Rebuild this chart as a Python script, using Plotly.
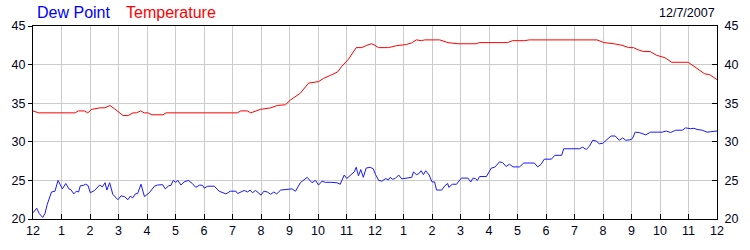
import plotly.graph_objects as go

# Hours since midnight, 12/7/2007
dew_hours = [
    0, 0.13, 0.22, 0.34, 0.42, 0.5, 0.65, 0.77, 0.88, 1.03,
    1.15, 1.26, 1.33, 1.43, 1.52, 1.60, 1.66, 1.76, 1.84, 1.93,
    2.01, 2.16, 2.34, 2.43, 2.53, 2.59, 2.69, 2.80, 2.98, 3.09,
    3.21, 3.33, 3.41, 3.50, 3.59, 3.67, 3.79, 3.91, 4.08, 4.26,
    4.37, 4.55, 4.64, 4.76, 4.84, 4.92, 5.01, 5.08, 5.19, 5.30,
    5.45, 5.59, 5.71, 5.85, 5.95, 6.01, 6.13, 6.36, 6.53, 6.77,
    6.92, 7.12, 7.18, 7.30, 7.41, 7.53, 7.62, 7.70, 7.81, 8.00,
    8.10, 8.22, 8.34, 8.45, 8.55, 8.69, 8.94, 9.09, 9.21, 9.38,
    9.62, 9.79, 9.91, 10.02, 10.14, 10.26, 10.43, 10.66, 10.78, 10.92,
    11.01, 11.19, 11.27, 11.34, 11.42, 11.50, 11.59, 11.69, 11.83, 11.94,
    12.02, 12.13, 12.24, 12.38, 12.47, 12.53, 12.61, 12.71, 12.83, 12.94,
    13.17, 13.29, 13.35, 13.45, 13.53, 13.62, 13.70, 13.78, 13.90, 14.00,
    14.09, 14.16, 14.34, 14.45, 14.55, 14.59, 14.71, 14.86, 15.03, 15.26,
    15.36, 15.44, 15.52, 15.59, 15.67, 15.91, 16.08, 16.20, 16.37, 16.48,
    16.60, 16.72, 16.84, 17.07, 17.22, 17.59, 17.71, 17.83, 17.94, 18.01,
    18.19, 18.31, 18.55, 18.62, 19.17, 19.29, 19.41, 19.52, 19.64, 19.76,
    19.87, 19.99, 20.13, 20.28, 20.43, 20.57, 20.69, 20.80, 20.94, 21.03,
    21.13, 21.27, 21.50, 21.67, 21.91, 22.08, 22.22, 22.37, 22.55, 22.78,
    22.90, 23.07, 23.19, 23.30, 23.48, 23.65, 23.77, 23.88, 24.00,
]
dew_point = [
    20.8, 21.4, 20.7, 20.2, 20.7, 21.9, 23.5, 23.6, 25.0, 23.9,
    24.6, 23.9, 23.8, 23.25, 23.6, 23.5, 24.3, 24.35, 24.5, 24.35,
    23.4, 23.7, 24.4, 24.15, 24.7, 23.75, 24.7, 23.2, 22.5, 23.0,
    22.9, 22.5, 22.95, 22.75, 23.25, 23.3, 24.5, 22.9, 23.4, 24.25,
    24.4, 24.45, 23.9, 24.3, 24.35, 25.0, 24.75, 25.0, 24.4, 24.8,
    25.0, 24.6, 24.1, 24.4, 24.35, 24.0, 24.25, 24.25, 23.6, 23.25,
    23.6, 23.6, 23.3, 23.55, 23.7, 23.5, 23.75, 23.4, 23.7, 23.1,
    23.6, 23.5, 23.2, 23.5, 23.25, 23.75, 23.9, 23.9, 23.6, 24.7,
    25.4, 24.7, 25.0, 24.4, 24.9, 24.75, 24.75, 24.7, 24.5, 25.7,
    25.25, 25.9, 26.1, 26.7, 25.6, 26.4, 25.4, 26.6, 26.7, 26.5,
    25.75, 25.0, 24.9, 25.25, 25.05, 25.4, 25.15, 25.25, 25.7, 25.2,
    25.3, 25.4, 26.1, 25.75, 25.85, 26.25, 25.75, 26.25, 25.7, 24.8,
    24.8, 23.75, 23.75, 24.3, 24.6, 24.1, 24.5, 24.5, 25.3, 25.3,
    24.8, 25.3, 25.25, 25.0, 25.5, 25.5, 26.6, 26.7, 27.4, 27.3,
    26.8, 27.1, 26.75, 26.75, 27.25, 27.25, 26.75, 27.1, 27.75, 27.75,
    27.75, 28.25, 28.25, 29.1, 29.1, 29.3, 29.0, 29.4, 30.2, 30.1,
    29.75, 29.8, 30.2, 30.75, 30.75, 30.2, 30.5, 30.2, 30.25, 30.4,
    31.25, 31.2, 30.9, 31.25, 31.25, 31.25, 31.4, 31.2, 31.5, 31.5,
    31.8, 31.7, 31.75, 31.6, 31.5, 31.25, 31.3, 31.35, 31.4,
]

temp_hours = [
    0, 0.2, 1.48, 1.59, 1.80, 1.92, 2.06, 2.35, 2.52, 2.70,
    2.87, 2.99, 3.16, 3.34, 3.51, 3.63, 3.78, 3.90, 4.03, 4.17,
    4.56, 4.67, 7.17, 7.29, 7.52, 7.64, 7.98, 8.34, 8.57, 8.86,
    9.03, 9.38, 9.67, 10.02, 10.19, 10.43, 10.69, 10.84, 11.07, 11.34,
    11.54, 11.71, 11.88, 12.00, 12.12, 12.47, 12.76, 13.10, 13.28, 13.45,
    13.63, 13.74, 14.27, 14.56, 14.91, 15.55, 15.66, 16.65, 16.83, 17.24,
    17.41, 19.79, 20.03, 20.38, 20.67, 20.90, 21.07, 21.24, 21.42, 21.65,
    21.88, 22.17, 22.41, 22.99, 23.28, 23.57, 23.74, 24.00,
]
temperature = [
    34.0, 33.75, 33.75, 34.0, 34.0, 33.75, 34.2, 34.4, 34.4, 34.7,
    34.25, 33.85, 33.4, 33.4, 33.75, 33.75, 34.0, 33.75, 33.75, 33.5,
    33.5, 33.75, 33.75, 34.0, 34.0, 33.75, 34.2, 34.4, 34.7, 34.8,
    35.4, 36.3, 37.6, 37.8, 38.2, 38.6, 39.05, 39.8, 40.7, 42.2,
    42.2, 42.5, 42.7, 42.5, 42.2, 42.2, 42.45, 42.6, 42.8, 43.2,
    43.1, 43.2, 43.2, 42.85, 42.7, 42.7, 42.85, 42.85, 43.1, 43.1,
    43.2, 43.2, 42.85, 42.7, 42.5, 42.2, 42.2, 41.9, 41.7, 41.7,
    41.2, 40.9, 40.3, 40.3, 39.5, 38.8, 38.7, 38.05,
]

hour_ticks = list(range(0, 25))
hour_labels = ["12"] + [str(h) for h in range(1, 12)] + ["12"] + [str(h) for h in range(1, 12)] + ["12"]
y_ticks = [20, 25, 30, 35, 40, 45]
date_label = "12/7/2007"

FONT = "Liberation Sans, Arial, sans-serif"
TICKCOL = "#000020"
GRID = "#cccccc"

fig = go.Figure()
fig.add_trace(go.Scatter(x=dew_hours, y=dew_point, mode="lines",
                         line=dict(color="#1818ff", width=1), name="Dew Point"))
fig.add_trace(go.Scatter(x=temp_hours, y=temperature, mode="lines",
                         line=dict(color="#ff0000", width=1), name="Temperature",
                         yaxis="y2"))

fig.update_layout(
    width=750, height=250,
    margin=dict(l=31, r=31, t=26, b=25, pad=0),
    paper_bgcolor="white", plot_bgcolor="white",
    showlegend=False,
    font=dict(family=FONT, size=12, color=TICKCOL),
    xaxis=dict(range=[0, 24], tickvals=hour_ticks, ticktext=hour_labels,
               showgrid=True, gridcolor=GRID, gridwidth=1,
               showline=True, linecolor="black", linewidth=1, mirror=True,
               ticks="inside", ticklen=5, tickcolor="black",
               zeroline=False, tickfont=dict(size=12.5)),
    yaxis=dict(range=[20, 45], tickvals=y_ticks,
               showgrid=True, gridcolor=GRID, gridwidth=1,
               showline=True, linecolor="black", linewidth=1,
               ticks="outside", ticklen=4, tickcolor="black",
               zeroline=False, tickfont=dict(size=12.5)),
    yaxis2=dict(range=[20, 45], tickvals=y_ticks, overlaying="y", side="right",
                showgrid=False, showline=True, linecolor="black", linewidth=1,
                ticks="inside", ticklen=5, tickcolor="black",
                zeroline=False, tickfont=dict(size=12.5), ticklabelstandoff=4),
    annotations=[
        dict(text="Dew Point", xref="paper", yref="paper", x=(33 - 31) / 688,
             y=(225 - 12.5) / 199, xanchor="left", yanchor="middle", showarrow=False,
             font=dict(family=FONT, size=16, color="#0000ff")),
        dict(text="Temperature", xref="paper", yref="paper", x=(123 - 31) / 688,
             y=(225 - 12.5) / 199, xanchor="left", yanchor="middle", showarrow=False,
             font=dict(family=FONT, size=16, color="#ff0000")),
        dict(text=date_label, xref="paper", yref="paper", x=(719 - 31) / 688,
             y=(225 - 12.5) / 199, xanchor="right", yanchor="middle", showarrow=False,
             font=dict(family=FONT, size=12.5, color=TICKCOL)),
    ],
)

fig.write_html("out.html")
